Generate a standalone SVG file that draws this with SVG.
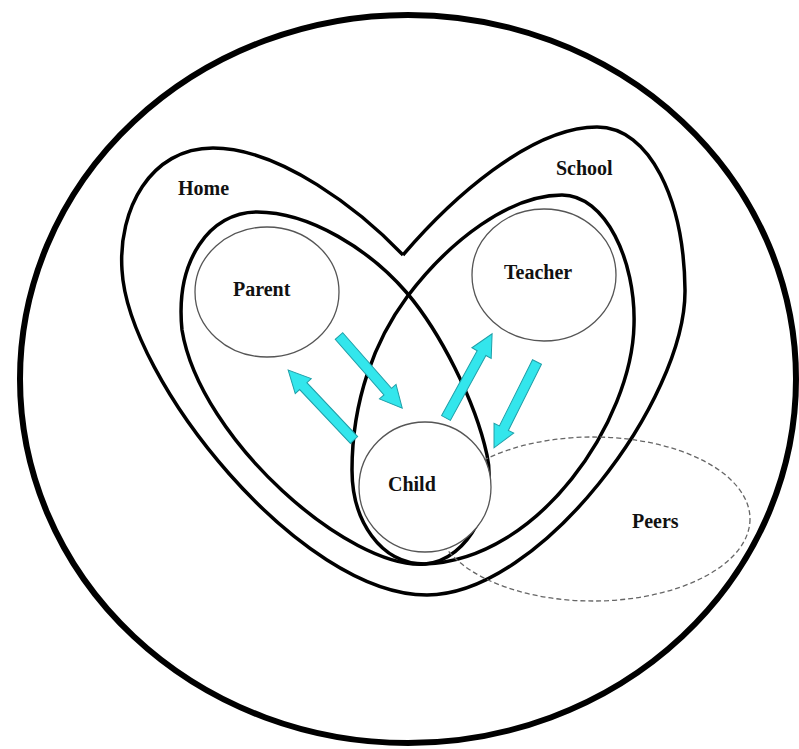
<svg xmlns="http://www.w3.org/2000/svg" width="799" height="749" viewBox="0 0 799 749">
<style>
.bound{fill:none;stroke:#000;stroke-width:3.5;stroke-linejoin:round}
.role{fill:#fff;stroke:#555;stroke-width:1.3}
.lbl{font-family:"Liberation Serif","Times New Roman",serif;font-weight:bold;font-size:20px;fill:#111}
.arrow{fill:#33E6EC;stroke:#1f9fa8;stroke-width:1}
</style>
<defs>
<path id="arr" d="M0,-5 L74,-5 L74,-11 L96,0 L74,11 L74,5 L0,5 Z"/>
</defs>
<rect width="799" height="749" fill="#fff"/>
<g id="world">
<ellipse cx="408" cy="379" rx="388" ry="364" fill="none" stroke="#000" stroke-width="6"/>
</g>
<g id="home">
<path class="bound" d="M403,255 C360,210 280,148 213,148 C150,148 118,210 122,270 C128,380 300,595 427,595"/>
<path class="bound" d="M257,212 C310,212 370,250 407,293 C440,332 475,400 487,455 C497,500 470,560 425,564 C350,570 200,440 182,330 C175,260 210,212 257,212 Z"/>
<text class="lbl" x="178" y="195">Home</text>
</g>
<g id="school">
<path class="bound" d="M427,595 C540,595 686,400 685,290 C684,200 650,127 597,127 C530,127 450,200 403,255"/>
<path class="bound" d="M562,195 C605,195 636,260 634,325 C632,420 540,560 425,564 C380,564 352,520 352,470 C352,400 375,340 407,297 C450,240 510,195 562,195 Z"/>
<text class="lbl" x="556" y="175">School</text>
</g>
<g id="peers">
<ellipse cx="593" cy="519" rx="157" ry="82" fill="none" stroke="#666" stroke-width="1.3" stroke-dasharray="5,3"/>
<text class="lbl" x="632" y="528">Peers</text>
</g>
<g id="parent">
<ellipse class="role" cx="267" cy="292" rx="72" ry="65"/>
<text class="lbl" x="233" y="296">Parent</text>
</g>
<g id="teacher">
<ellipse class="role" cx="544" cy="275" rx="72" ry="66"/>
<text class="lbl" x="504" y="279">Teacher</text>
</g>
<g id="child">
<ellipse class="role" cx="425" cy="487" rx="66" ry="65"/>
<text class="lbl" x="388" y="491">Child</text>
</g>
<g id="connectors">
<use href="#arr" class="arrow" transform="translate(339,336) rotate(48.8)"/>
<use href="#arr" class="arrow" transform="translate(354,440) rotate(-133.3)"/>
<use href="#arr" class="arrow" transform="translate(446,418) rotate(-61.3)"/>
<use href="#arr" class="arrow" transform="translate(537,362) rotate(116.6)"/>
</g>
</svg>
